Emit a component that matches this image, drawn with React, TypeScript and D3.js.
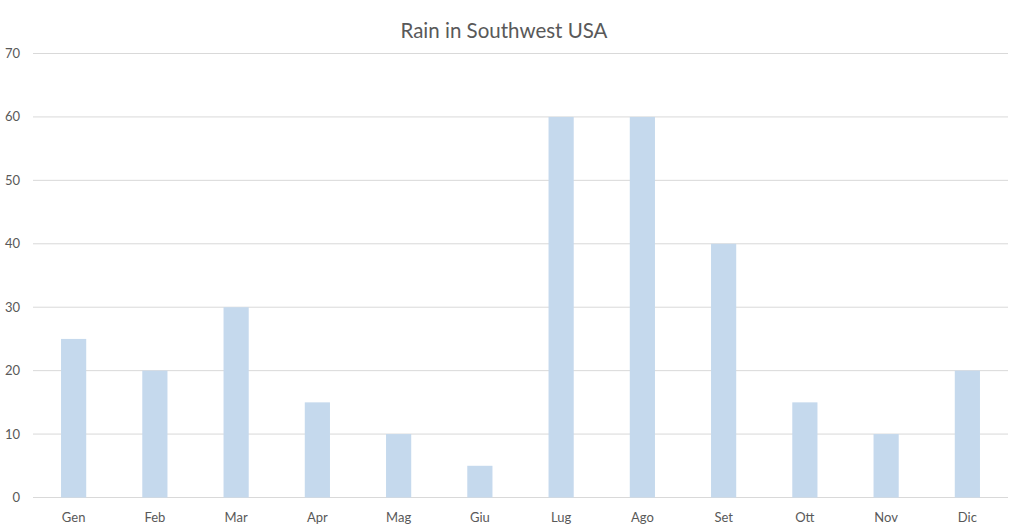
import React, { useEffect, useRef } from "react";
import * as d3 from "d3";

const months = ["Gen", "Feb", "Mar", "Apr", "Mag", "Giu", "Lug", "Ago", "Set", "Ott", "Nov", "Dic"];
const rain = [25, 20, 30, 15, 10, 5, 60, 60, 40, 15, 10, 20];
const yTicks = [0, 10, 20, 30, 40, 50, 60, 70];
const title = "Rain in Southwest USA";

const width = 1024;
const height = 530;
const margins = { top: 53.5, right: 16, bottom: 32.5, left: 33 };
const font = "Lato, 'Open Sans', sans-serif";

const App: React.FC = () => {
    const svgRef = useRef<SVGSVGElement | null>(null);

    useEffect(() => {
        if (!svgRef.current) return;
        const svg = d3.select(svgRef.current);
        svg.selectAll("*").remove();

        const x = d3
            .scaleBand()
            .domain(months)
            .range([margins.left, width - margins.right])
            .paddingInner(0.69)
            .paddingOuter(0.345);

        const y = d3
            .scaleLinear()
            .domain([0, 70])
            .range([height - margins.bottom, margins.top]);

        // gridlines
        svg.append("g")
            .selectAll("line")
            .data(yTicks)
            .join("line")
            .attr("x1", margins.left)
            .attr("x2", width - margins.right)
            .attr("y1", (d) => y(d))
            .attr("y2", (d) => y(d))
            .attr("stroke", "#d9d9d9")
            .attr("stroke-width", 1);

        // y labels
        svg.append("g")
            .selectAll("text")
            .data(yTicks)
            .join("text")
            .attr("x", 20)
            .attr("y", (d) => y(d))
            .attr("dy", "0.35em")
            .attr("text-anchor", "end")
            .attr("font-family", font)
            .attr("font-size", 13)
            .attr("fill", "#595959")
            .text((d) => d);

        // bars
        svg.append("g")
            .selectAll("rect")
            .data(rain)
            .join("rect")
            .attr("x", (_, i) => x(months[i])!)
            .attr("width", x.bandwidth())
            .attr("y", (d) => y(d))
            .attr("height", (d) => y(0) - y(d))
            .attr("fill", "#c5d9ed");

        // x labels
        svg.append("g")
            .selectAll("text")
            .data(months)
            .join("text")
            .attr("x", (d) => x(d)! + x.bandwidth() / 2)
            .attr("y", 522)
            .attr("text-anchor", "middle")
            .attr("font-family", font)
            .attr("font-size", 13)
            .attr("fill", "#595959")
            .text((d) => d);

        // title
        svg.append("text")
            .attr("x", 504)
            .attr("y", 38)
            .attr("text-anchor", "middle")
            .attr("font-family", font)
            .attr("font-size", 20.5)
            .attr("fill", "#595959")
            .text(title);
    }, []);

    return (
        <svg
            ref={svgRef}
            width={width}
            height={height}
            style={{ position: "absolute", left: 0, top: 0, background: "#fff" }}
        ></svg>
    );
};

export default App;
